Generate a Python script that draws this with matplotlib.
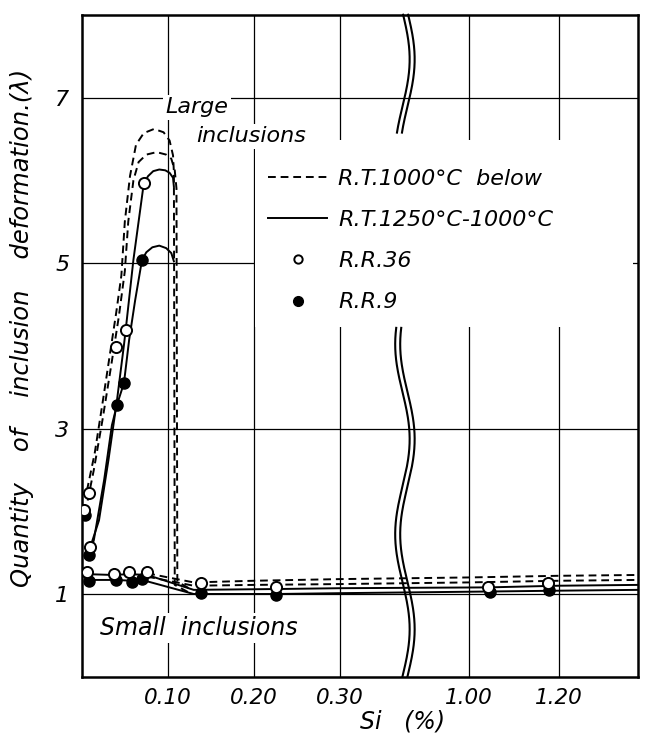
import matplotlib.pyplot as plt
from matplotlib.lines import Line2D
from matplotlib.patches import Rectangle
import numpy as np

plt.rcParams['font.family'] = ['DejaVu Sans']
plt.rcParams['font.style'] = 'italic'

# Si content (%) and deformation (lambda), large inclusions
large_dash_a_x = [0.006, 0.015, 0.024, 0.032, 0.040, 0.046, 0.050, 0.056, 0.063, 0.072, 0.084, 0.095, 0.102, 0.106, 0.107, 0.108, 0.124]
large_dash_a_y = [2.25, 2.70, 3.30, 3.85, 4.40, 4.85, 5.50, 6.05, 6.43, 6.57, 6.62, 6.58, 6.48, 6.30, 6.10, 1.11, 1.02]
large_dash_b_x = [0.004, 0.014, 0.024, 0.034, 0.043, 0.050, 0.054, 0.060, 0.066, 0.075, 0.087, 0.098, 0.104, 0.108, 0.110, 0.111, 0.126]
large_dash_b_y = [1.98, 2.50, 3.10, 3.75, 4.35, 4.90, 5.50, 6.00, 6.22, 6.31, 6.34, 6.31, 6.26, 6.12, 5.90, 1.15, 1.06]
large_solid_a_x = [0.010, 0.020, 0.031, 0.041, 0.049, 0.051, 0.060, 0.072, 0.077, 0.083, 0.090, 0.097, 0.102, 0.106, 0.107]
large_solid_a_y = [1.57, 1.89, 2.62, 3.35, 4.01, 4.19, 5.04, 5.96, 6.05, 6.11, 6.13, 6.12, 6.09, 6.03, 5.92]
large_solid_b_x = [0.008, 0.014, 0.026, 0.035, 0.041, 0.049, 0.055, 0.062, 0.070, 0.075, 0.082, 0.090, 0.098, 0.104, 0.107]
large_solid_b_y = [1.47, 1.65, 2.38, 3.04, 3.29, 3.55, 4.07, 4.55, 5.04, 5.13, 5.19, 5.21, 5.18, 5.12, 5.02]

# small inclusions
small_dash_a_x = [0.076, 0.130, 0.200, 0.300, 1.000, 1.200, 1.376]
small_dash_a_y = [1.25, 1.14, 1.16, 1.18, 1.20, 1.22, 1.23]
small_dash_b_x = [0.076, 0.130, 0.200, 0.300, 1.000, 1.200, 1.376]
small_dash_b_y = [1.21, 1.10, 1.11, 1.12, 1.14, 1.16, 1.17]
small_solid_a_x = [0.006, 0.036, 0.055, 0.076, 0.130, 0.226, 0.300, 1.044, 1.200, 1.376]
small_solid_a_y = [1.24, 1.23, 1.24, 1.23, 1.05, 1.06, 1.07, 1.08, 1.10, 1.11]
small_solid_b_x = [0.008, 0.040, 0.058, 0.070, 0.130, 0.226, 0.300, 1.044, 1.200, 1.376]
small_solid_b_y = [1.17, 1.17, 1.16, 1.17, 1.00, 1.00, 1.01, 1.03, 1.04, 1.05]

# measured points
rr36_x = [0.008, 0.003, 0.010, 0.040, 0.051, 0.072, 0.006, 0.037, 0.055, 0.076, 0.138, 0.226, 1.044, 1.176]
rr36_y = [2.22, 2.02, 1.57, 3.98, 4.19, 5.97, 1.27, 1.24, 1.27, 1.27, 1.13, 1.08, 1.08, 1.13]
rr9_x = [0.004, 0.008, 0.041, 0.049, 0.070, 0.008, 0.040, 0.058, 0.070, 0.138, 0.226, 1.048, 1.178]
rr9_y = [1.96, 1.47, 3.29, 3.55, 5.04, 1.16, 1.17, 1.15, 1.18, 1.01, 0.99, 1.02, 1.05]

x_ticks = [0.10, 0.20, 0.30, 1.00, 1.20]
x_labels = ['0.10', '0.20', '0.30', '1.00', '1.20']
y_ticks = [1, 3, 5, 7]

# broken x axis: 0-0.374 and 0.858-1.376 (right part compressed)
B1, B2, K, EPS = 0.374, 0.858, 0.5233, 0.002
GAP = (B2 - B1) * EPS


def fwd(x):
    x = np.asarray(x, dtype=float)
    return np.where(x <= B1, x,
                    np.where(x >= B2, B1 + GAP + (x - B2) * K, B1 + (x - B1) * EPS))


def inv(u):
    u = np.asarray(u, dtype=float)
    return np.where(u <= B1, u,
                    np.where(u >= B1 + GAP, B2 + (u - B1 - GAP) / K, B1 + (u - B1) / EPS))


fig = plt.figure(figsize=(6.49, 7.38), dpi=100)
ax = fig.add_axes([0.126, 0.083, 0.857, 0.897])
ax.set_xscale('function', functions=(fwd, inv))
ax.set_xlim(0, 1.376)
ax.set_ylim(0, 8)

ax.set_xticks(x_ticks)
ax.set_xticklabels(x_labels)
ax.set_yticks(y_ticks)
ax.set_yticklabels([str(v) for v in y_ticks])
ax.minorticks_off()
ax.tick_params(length=0)
ax.tick_params(axis='y', pad=9, labelsize=16)
ax.tick_params(axis='x', pad=8, labelsize=15.5)
ax.grid(True, color='black', lw=0.9)
ax.set_axisbelow(True)
for s in ax.spines.values():
    s.set_linewidth(1.8)

dash = (0, (4, 2.5))
lw = 1.4
for xs, ys in [(large_dash_a_x, large_dash_a_y), (large_dash_b_x, large_dash_b_y),
               (small_dash_a_x, small_dash_a_y), (small_dash_b_x, small_dash_b_y)]:
    ax.plot(xs, ys, color='black', lw=lw, ls=dash, zorder=3)
for xs, ys in [(large_solid_a_x, large_solid_a_y), (large_solid_b_x, large_solid_b_y),
               (small_solid_a_x, small_solid_a_y), (small_solid_b_x, small_solid_b_y)]:
    ax.plot(xs, ys, color='black', lw=lw, ls='-', zorder=3)

ax.plot(rr9_x, rr9_y, ls='none', marker='o', ms=8, mfc='black', mec='black', zorder=4)
ax.plot(rr36_x, rr36_y, ls='none', marker='o', ms=8, mfc='white', mec='black', mew=1.4, zorder=5)

# break marks
t = np.linspace(0, 1, 200)
for y0, y1 in [(0.822, 1.0), (0.0, 0.527)]:
    yy = y0 + (y1 - y0) * t
    xx = 0.581 + 0.013 * np.sin(yy * 662 / 190 * 2 * np.pi)
    for off in (-0.0045, 0.0045):
        ax.plot(xx + off, yy, color='black', lw=1.5, transform=ax.transAxes,
                clip_on=False, zorder=6)

box = dict(facecolor='white', edgecolor='none', pad=2)
ax.text(0.0975, 6.88, 'Large', fontsize=16, va='center', bbox=box, zorder=2)
ax.text(0.133, 6.53, 'inclusions', fontsize=16, va='center', bbox=box, zorder=2)
ax.text(0.021, 0.59, 'Small  inclusions', fontsize=17, va='center', bbox=box, zorder=2)

# blank area around the legend
ax.add_patch(Rectangle((0.311, 0.529), 0.68, 0.282, transform=ax.transAxes,
                       facecolor='white', edgecolor='none', zorder=1))

handles = [Line2D([], [], color='black', lw=lw, ls=dash),
           Line2D([], [], color='black', lw=lw),
           Line2D([], [], ls='none', marker='o', ms=6, mfc='white', mec='black', mew=1.4),
           Line2D([], [], ls='none', marker='o', ms=7, mfc='black', mec='black')]
labels = ['R.T.1000°C  below', 'R.T.1250°C-1000°C', 'R.R.36', 'R.R.9']
leg = ax.legend(handles, labels, loc='upper left', bbox_to_anchor=(0.335, 0.767),
                fontsize=16, handlelength=2.65, handletextpad=0.5, labelspacing=0.95,
                frameon=False, borderpad=0, borderaxespad=0)
leg.set_zorder(2)

ax.set_ylabel('Quantity    of    inclusion    deformation.(λ)', fontsize=17.5)
ax.yaxis.set_label_coords(-0.085, 0.527)
ax.set_xlabel('Si   (%)', fontsize=17)
ax.xaxis.set_label_coords(0.577, -0.05)

fig.savefig('out.png', dpi=100)
